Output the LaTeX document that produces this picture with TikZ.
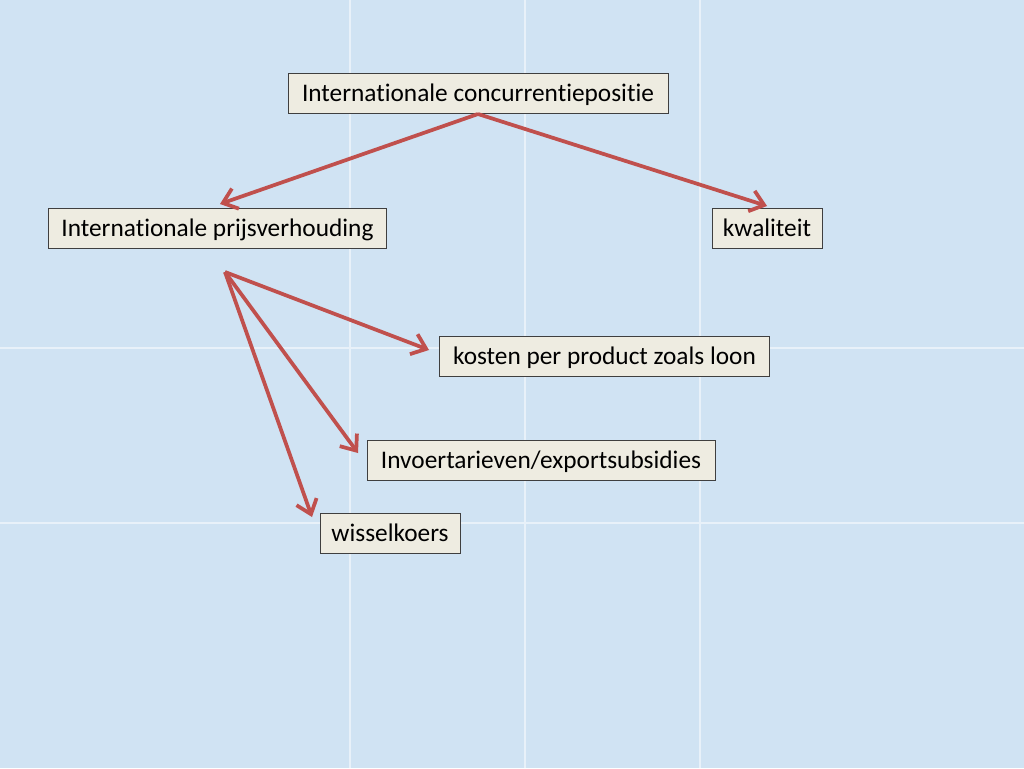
\documentclass[tikz,border=0pt]{standalone}
\usepackage{fontspec}
\setmainfont{Carlito}[Ligatures={NoCommon}]
\usetikzlibrary{arrows.meta}
\definecolor{bgblue}{HTML}{D0E3F3}
\definecolor{gridw}{HTML}{E8F1F9}
\definecolor{boxfill}{HTML}{EEECE1}
\definecolor{boxdraw}{HTML}{3F3F3F}
\definecolor{arrred}{HTML}{C0504D}
\tikzset{
  box/.style={draw=boxdraw, line width=0.75pt, fill=boxfill, inner xsep=7.5pt, inner ysep=0pt,
    text height=14pt, text depth=2pt,
    minimum height=30pt, font=\fontsize{19}{22}\selectfont, text=black, anchor=center},
  link/.style={draw=arrred, line width=2.8pt, -{Straight Barb[length=10pt,width=16pt,line width=2.8pt]}}
}
\begin{document}
\begin{tikzpicture}[x=0.75pt,y=-0.75pt]
\useasboundingbox (0,0) rectangle (1024,768);
\fill[bgblue] (0,0) rectangle (1024,768);
\foreach \gx in {350,525,700} \draw[gridw, line width=1pt] (\gx,0) -- (\gx,768);
\foreach \gy in {348,523} \draw[gridw, line width=1pt] (0,\gy) -- (1024,\gy);
\node[box, minimum width=285pt] (top) at (478,93) {Internationale concurrentiepositie};
\node[box, minimum width=254pt] (ipv) at (217.5,228) {Internationale prijsverhouding};
\node[box, minimum width=82.5pt] (kw) at (767,228) {kwaliteit};
\node[box, minimum width=248pt] (kost) at (604.5,356) {kosten per product zoals loon};
\node[box, minimum width=261pt] (inv) at (541,460.5) {Invoertarieven/exportsubsidies};
\node[box, minimum width=105pt] (wis) at (390,533.5) {wisselkoers};
\coordinate (topb) at (478,114);
\coordinate (src) at (225,272);
\coordinate (t1) at (220,204);
\coordinate (t2) at (767,206);
\coordinate (t3) at (429,350);
\coordinate (t4) at (358,453);
\coordinate (t5) at (312,517);
\draw[link] (topb) -- (t1);
\draw[link] (topb) -- (t2);
\draw[link] (src) -- (t3);
\draw[link] (src) -- (t4);
\draw[link] (src) -- (t5);
\end{tikzpicture}
\end{document}
